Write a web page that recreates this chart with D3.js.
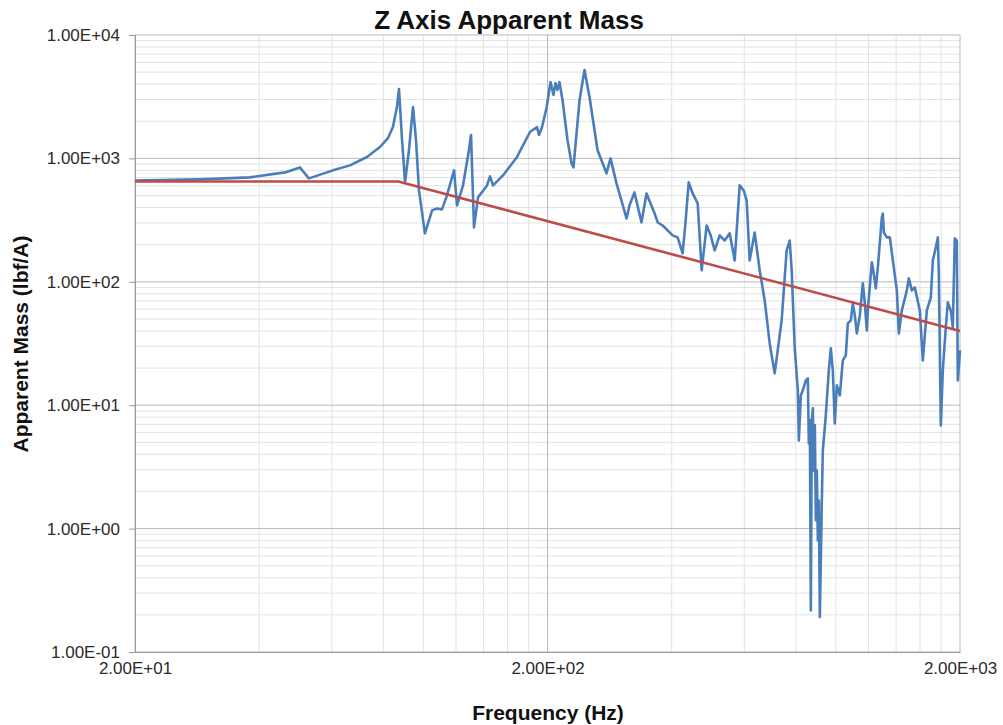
<!DOCTYPE html>
<html>
<head>
<meta charset="utf-8">
<script src="https://cdn.jsdelivr.net/npm/d3@7"></script>
<style>
    html, body { margin: 0; padding: 0; background: #fff; }
    svg { display: block; font-family: "Liberation Sans", Arial, sans-serif; }
</style>
</head>
<body>
<div id="chart"></div>
<script>
// Données (fréquence en Hz, masse apparente en lbf/A)
const freqMesure = [
    20, 28.8, 38.0, 46.2, 50.2, 52.8, 60.4, 66.4, 73.0, 78.5,
    82.1, 84.4, 86.3, 87.3, 88.8, 90.3, 92.3, 94.4, 96.0, 97.6,
    100.9, 105.0, 107.9, 111.0, 114.1, 118.7, 120.7, 124.8, 129.0, 130.5,
    132.7, 135.7, 142.7, 145.1, 147.6, 156.0, 168.7, 181.4, 188.6, 190.7,
    194.0, 198.9, 203.4, 206.8, 209.1, 211.4, 213.8, 217.5, 223.6, 228.7,
    231.2, 239.2, 245.9, 252.9, 264.4, 278.0, 284.3, 294.0, 310.9, 316.1,
    325.0, 338.0, 347.6, 363.7, 369.9, 380.4, 402.2, 413.6, 425.2, 432.5,
    439.9, 449.8, 462.5, 472.9, 486.3, 497.2, 508.5, 522.9, 537.7, 552.9,
    568.6, 584.7, 597.9, 607.9, 618.2, 635.7, 653.7, 672.3, 691.3, 710.8,
    739.1, 760.0, 772.9, 781.6, 794.8, 808.9, 813.5, 822.5, 831.8, 845.8,
    855.3, 860.1, 865.0, 869.8, 874.7, 879.6, 884.5, 889.5, 894.4, 899.4,
    904.5, 909.5, 914.6, 919.7, 924.9, 930.0, 945.6, 961.6, 972.4, 983.4,
    994.4, 1005.6, 1022.6, 1039.8, 1057.4, 1069.3, 1087.4, 1099.6, 1111.9, 1124.4,
    1143.4, 1162.7, 1175.8, 1189.0, 1195.6, 1222.6, 1229.4, 1250.2, 1264.3, 1292.9,
    1300.0, 1307.4, 1329.4, 1351.9, 1374.7, 1405.8, 1421.6, 1445.4, 1486.3, 1503.0,
    1528.3, 1554.1, 1598.0, 1625.2, 1661.9, 1699.4, 1718.5, 1747.5, 1767.1, 1777.0,
    1796.9, 1817.1, 1847.7, 1868.5, 1900.0, 1921.2, 1942.8, 1964.6, 1975.6, 2000
];
const masseMesure = [
    660, 676, 702, 770, 845, 689, 800, 878, 1027, 1237,
    1463, 1796, 2610, 3651, 1410, 639, 1170, 2610, 1410, 550,
    247, 379, 393, 386, 501, 800, 416, 604, 1170, 1547,
    276, 483, 604, 715, 604, 728, 1027, 1636, 1796, 1547,
    1796, 2562, 4160, 3265, 4083, 3584, 4160, 2973, 1410, 911,
    845, 2973, 5204, 3145, 1170, 756, 1000, 627, 326, 416,
    530, 303, 520, 358, 303, 286, 238, 229, 170, 314,
    639, 520, 432, 124, 286, 238, 180, 238, 216, 247,
    149, 604, 550, 457, 149, 251, 124, 70.7, 31.7, 18.1,
    48.7, 180, 216, 124, 29.4, 13.2, 5.18, 12.0, 13.2, 15.9,
    16.5, 4.90, 7.53, 0.217, 7.53, 9.42, 2.96, 6.86, 1.17, 2.96,
    0.802, 1.69, 0.192, 0.552, 1.69, 4.30, 8.27, 19.1, 28.9, 19.1,
    7.12, 14.5, 12.0, 23.1, 25.3, 46.0, 48.7, 66.8, 53.4, 38.2,
    53.4, 97.1, 66.8, 40.4, 58.6, 143.7, 130.9, 88.4, 130.9, 332.5,
    358, 251, 229, 229, 149, 85.2, 38.2, 58.6, 85.2, 106.6,
    85.2, 90.1, 58.6, 23.1, 58.6, 74.7, 149, 190, 229, 117,
    6.86, 19.1, 42.7, 68.1, 58.6, 42.7, 225, 216, 15.9, 27.8
];

// Courbe de référence (rouge)
const freqRef = [20, 87, 2000];
const masseRef = [650, 650, 40];

// Graduations
const yTickValues = [0.1, 1, 10, 100, 1000, 10000];
const yTickLabels = ["1.00E-01", "1.00E+00", "1.00E+01", "1.00E+02", "1.00E+03", "1.00E+04"];
const xTickValues = [20, 200, 2000];
const xTickLabels = ["2.00E+01", "2.00E+02", "2.00E+03"];

const width = 1003;
const height = 725;
const plot = { left: 135, right: 960, top: 35, bottom: 652 };

const svg = d3.select("#chart").append("svg")
    .attr("width", width)
    .attr("height", height);

const x = d3.scaleLog().domain([20, 2000]).range([plot.left, plot.right]);
const y = d3.scaleLog().domain([0.1, 10000]).range([plot.bottom, plot.top]);

// Lignes de grille secondaires puis principales
const xMinor = [];
[20, 200].forEach(b => { for (let k = 2; k <= 9; k++) xMinor.push(b * k); });
const yMinor = [];
[0.1, 1, 10, 100, 1000].forEach(b => { for (let k = 2; k <= 9; k++) yMinor.push(b * k); });

const grid = svg.append("g");
grid.selectAll(".vmin").data(xMinor).enter().append("line")
    .attr("x1", d => x(d)).attr("x2", d => x(d))
    .attr("y1", plot.top).attr("y2", plot.bottom)
    .attr("stroke", "#e2e2e2").attr("stroke-width", 1);
grid.selectAll(".hmin").data(yMinor).enter().append("line")
    .attr("x1", plot.left).attr("x2", plot.right)
    .attr("y1", d => y(d)).attr("y2", d => y(d))
    .attr("stroke", "#e2e2e2").attr("stroke-width", 1);
grid.selectAll(".vmaj").data(xTickValues).enter().append("line")
    .attr("x1", d => x(d)).attr("x2", d => x(d))
    .attr("y1", plot.top).attr("y2", plot.bottom)
    .attr("stroke", "#b9b9b9").attr("stroke-width", 1);
grid.selectAll(".hmaj").data(yTickValues).enter().append("line")
    .attr("x1", plot.left).attr("x2", plot.right)
    .attr("y1", d => y(d)).attr("y2", d => y(d))
    .attr("stroke", "#b9b9b9").attr("stroke-width", 1);

// Axes
const yAxis = d3.axisLeft(y)
    .tickValues(yTickValues)
    .tickFormat((d, i) => yTickLabels[i])
    .tickSize(6)
    .tickPadding(9);
const gy = svg.append("g")
    .attr("transform", `translate(${plot.left},0)`)
    .call(yAxis);
gy.select(".domain").attr("stroke", "#9a9a9a");
gy.selectAll(".tick line").attr("stroke", "#9a9a9a");
gy.selectAll(".tick text")
    .attr("font-size", 17)
    .attr("fill", "#2b2b2b")
    .attr("font-family", "'Liberation Sans', Arial, sans-serif");

const xAxis = d3.axisBottom(x)
    .tickValues(xTickValues)
    .tickFormat((d, i) => xTickLabels[i])
    .tickSize(0)
    .tickPadding(10);
const gx = svg.append("g")
    .attr("transform", `translate(0,${plot.bottom})`)
    .call(xAxis);
gx.select(".domain").attr("stroke", "#9a9a9a");
gx.selectAll(".tick text")
    .attr("font-size", 17)
    .attr("fill", "#2b2b2b")
    .attr("font-family", "'Liberation Sans', Arial, sans-serif");

// Séries
const line = d3.line()
    .x(d => x(d[0]))
    .y(d => y(d[1]));

svg.append("path")
    .datum(freqMesure.map((f, i) => [f, masseMesure[i]]))
    .attr("fill", "none")
    .attr("stroke", "#4a7ebb")
    .attr("stroke-width", 2.6)
    .attr("stroke-linejoin", "round")
    .attr("d", line);

svg.append("path")
    .datum(freqRef.map((f, i) => [f, masseRef[i]]))
    .attr("fill", "none")
    .attr("stroke", "#be4b48")
    .attr("stroke-width", 2.6)
    .attr("d", line);

// Titres
svg.append("text")
    .attr("x", 509).attr("y", 29)
    .attr("text-anchor", "middle")
    .attr("font-size", 26)
    .attr("font-weight", "bold")
    .attr("fill", "#111")
    .text("Z Axis Apparent Mass");

svg.append("text")
    .attr("x", 548).attr("y", 720)
    .attr("text-anchor", "middle")
    .attr("font-size", 21)
    .attr("font-weight", "bold")
    .attr("fill", "#111")
    .text("Frequency (Hz)");

svg.append("text")
    .attr("transform", "translate(28,344) rotate(-90)")
    .attr("text-anchor", "middle")
    .attr("font-size", 21)
    .attr("font-weight", "bold")
    .attr("fill", "#111")
    .text("Apparent Mass (lbf/A)");
</script>
</body>
</html>
